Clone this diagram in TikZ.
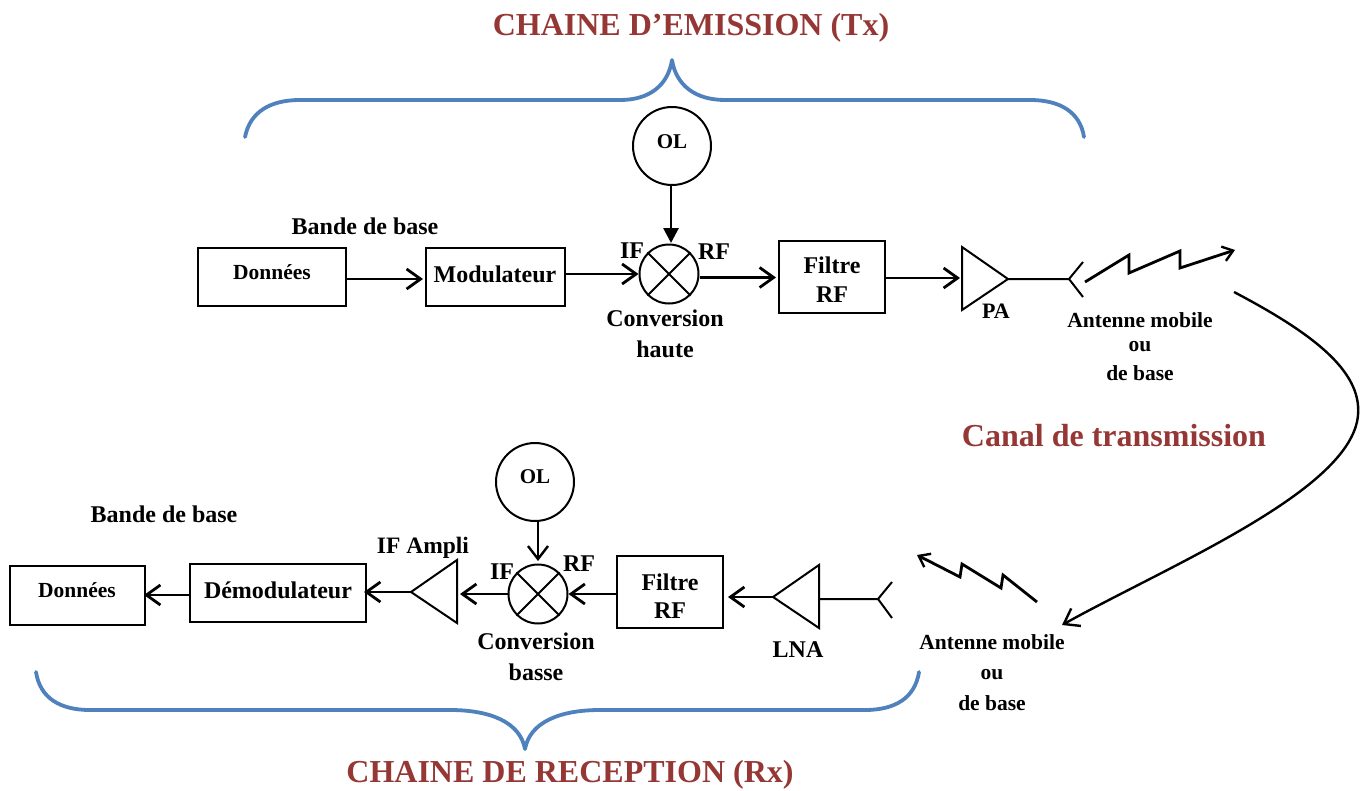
\documentclass[tikz,border=0pt]{standalone}
\usepackage{fontspec}
\setmainfont{Liberation Serif}
\usetikzlibrary{arrows.meta}
\definecolor{titlered}{RGB}{149,55,53}
\definecolor{braceblue}{RGB}{79,129,189}
\tikzset{
  lbl/.style={inner sep=0pt,font=\fontsize{#1}{#1}\selectfont\bfseries,align=center},
  lbl/.default=24,
  titre/.style={inner sep=0pt,text=titlered,font=\fontsize{32}{32}\selectfont\bfseries},
  boxn/.style={draw=black,line width=2pt,inner sep=0pt,minimum width=#1,align=center},
  circn/.style={draw=black,line width=2pt,circle,inner sep=0pt,minimum size=#1},
  conn/.style={line width=2.8pt,-{Straight Barb[length=14pt,width=20pt,line width=2.8pt]}},
  bolt/.style={line width=2.8pt,line join=miter,-{Straight Barb[length=10pt,width=15pt,line width=2.4pt]}},
  plain/.style={line width=2pt},
  brace/.style={draw=braceblue,line width=3.8pt,line cap=round,line join=round},
}
\begin{document}
\begin{tikzpicture}[x=1pt,y=-1pt]
\useasboundingbox (0,0) rectangle (1367,790);
% titles
\node[titre] (t1) at (691,28) {CHAINE D’EMISSION (Tx)};
\node[titre] (t2) at (570,775) {CHAINE DE RECEPTION (Rx)};
\node[titre] (t3) at (1114,436) {Canal de transmission};
% braces
\draw[brace] (245,137) .. controls (250,112) and (270,100) .. (300,100) -- (620,100) .. controls (650,100) and (668,85) .. (672,60) .. controls (676,85) and (695,100) .. (725,100) -- (1030,100) .. controls (1060,100) and (1080,112) .. (1084,137);
\draw[brace] (36,672) .. controls (40,698) and (60,710) .. (90,710) -- (450,710) .. controls (490,710) and (520,722) .. (525,749) .. controls (530,722) and (560,710) .. (600,710) -- (865,710) .. controls (895,710) and (915,698) .. (919,672);
% Tx
\node[lbl] (bb1) at (365,226) {Bande de base};
\node[boxn=148pt,minimum height=58pt] (d1) at (272,277) {};
\node[lbl=21.5] (d1t) at (272,272) {Données};
\node[boxn=139pt,minimum height=58pt] (m1) at (495,277) {};
\node[lbl] (m1t) at (495,274) {Modulateur};
\node[circn=78pt] (ol1) at (672,146) {};
\node[lbl=21] (ol1t) at (672,142) {OL};
\node[circn=59pt] (x1) at (669,274) {};
\draw[plain] (x1.north west) -- (x1.south east) (x1.north east) -- (x1.south west);
\node[lbl] (if1) at (632,251) {IF};
\node[lbl] (rf1) at (714,252) {RF};
\node[lbl] (c1) at (665,318) {Conversion};
\node[lbl] (h1) at (665,349) {haute};
\node[boxn=106pt,minimum height=72pt] (f1) at (832,277) {};
\node[lbl] (f1a) at (832,265) {Filtre};
\node[lbl] (f1b) at (832,295) {RF};
\coordinate (pa1in) at (962,279);
\coordinate (pa1out) at (1008,279);
\draw[plain,line join=miter] (962,247) -- (pa1out) -- (962,310) -- cycle;
\node[lbl=22] (pa1t) at (996,311) {PA};
\coordinate (a1) at (1069,279);
\draw[plain] (pa1out) -- (a1) (1083,262) -- (a1) -- (1083,297);
\node[lbl=21.5] (am1) at (1140,320) {Antenne mobile};
\node[lbl=21.5] (ou1) at (1140,347) {ou};
\node[lbl=21.5] (db1) at (1140,373) {de base};
\draw[bolt] (1085,282) -- (1129,255) -- (1129,273) -- (1180,251) -- (1180,268) -- (1235,250);
\draw[conn] (d1.east |- 0,279) -- (423,279);
\draw[conn] (m1.east |- 0,274) -- (x1.west);
\draw[conn] (x1.east) ++(0,3.5) -- (776,277.5);
\draw[conn] (f1.east |- 0,278) -- (960,278);
\draw[line width=2.8pt,-{Triangle[length=15pt,width=15pt]}] (ol1.south) ++(-1,0) -- (671,243);
% channel
\draw[line width=2.4pt,-{Straight Barb[length=14pt,width=20pt,line width=2.4pt]}] (1234,292) .. controls (1310,332) and (1362,370) .. (1358,415) .. controls (1352,490) and (1170,565) .. (1062,625);
% Rx
\node[lbl] (bb2) at (164,514) {Bande de base};
\node[boxn=135pt,minimum height=59pt] (d2) at (77,595) {};
\node[lbl=21.5] (d2t) at (77,590) {Données};
\node[boxn=176pt,minimum height=58pt] (m2) at (278,593) {};
\node[lbl] (m2t) at (278,590) {Démodulateur};
\node[lbl=23.5] (ifa) at (423,548) {IF Ampli};
\coordinate (if2) at (411,592);
\draw[plain,line join=miter] (457,560) -- (if2) -- (457,623) -- cycle;
\node[circn=78pt] (ol2) at (535,482) {};
\node[lbl=21] (ol2t) at (535,477) {OL};
\node[circn=59pt] (x2) at (538,594) {};
\draw[plain] (x2.north west) -- (x2.south east) (x2.north east) -- (x2.south west);
\node[lbl] (if2t) at (502,572) {IF};
\node[lbl] (rf2t) at (579,564) {RF};
\node[lbl] (c2) at (536,641) {Conversion};
\node[lbl] (b2) at (536,672) {basse};
\node[boxn=106pt,minimum height=72pt] (f2) at (670,592) {};
\node[lbl] (f2a) at (670,582) {Filtre};
\node[lbl] (f2b) at (670,611) {RF};
\coordinate (lna) at (773,597);
\draw[plain,line join=miter] (819,565) -- (lna) -- (819,628) -- cycle;
\node[lbl] (lnat) at (798,650) {LNA};
\coordinate (a2) at (878,599);
\draw[plain] (819,599) -- (a2) (892,582) -- (a2) -- (892,618);
\node[lbl=21.5] (am2) at (992,642) {Antenne mobile};
\node[lbl=21.5] (ou2) at (992,675) {ou};
\node[lbl=21.5] (db2) at (992,703) {de base};
\draw[bolt] (1037,602) -- (1003,575) -- (1001,588) -- (962,564) -- (960,577) -- (917,555);
\draw[conn] (lna) -- (728,597);
\draw[conn] (f2.west |- 0,594) -- (x2.east);
\draw[conn] (x2.west) -- (460,594);
\draw[conn] (if2) -- (364,592);
\draw[conn] (m2.west |- 0,595) -- (144,595);
\draw[line width=2.4pt,-{Straight Barb[length=13pt,width=20pt,line width=2.4pt]}] (ol2.south) ++(3,0) -- (538,561);
\end{tikzpicture}
\end{document}
